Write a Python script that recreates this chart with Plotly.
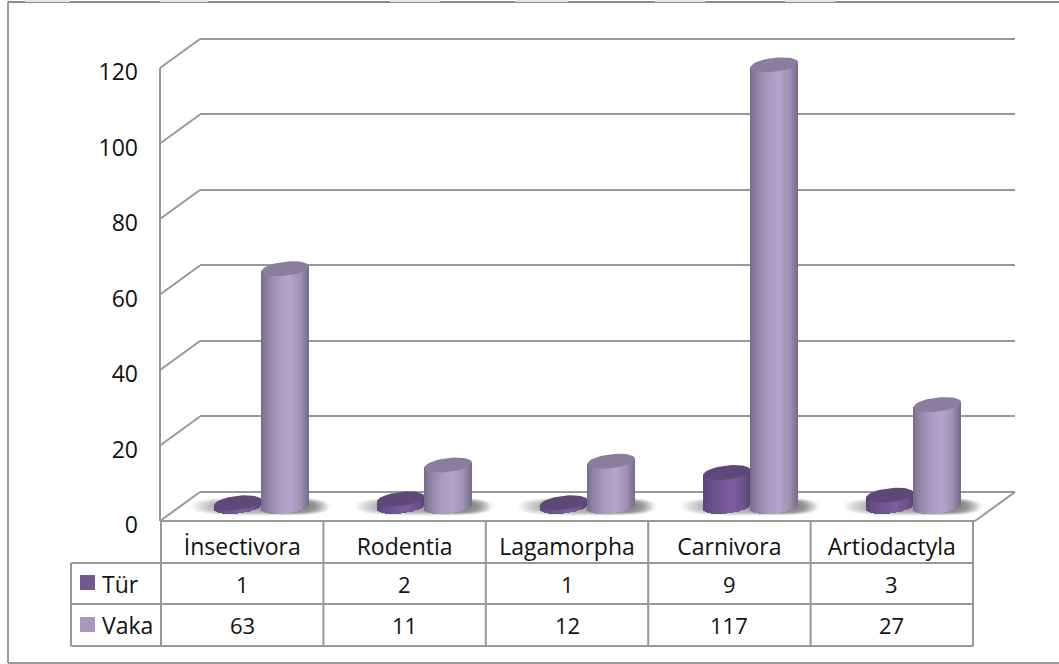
import math
import plotly.graph_objects as go

# Chart data
categories = ["İnsectivora", "Rodentia", "Lagamorpha", "Carnivora", "Artiodactyla"]
tur = [1, 2, 1, 9, 3]
vaka = [63, 11, 12, 117, 27]
series_names = ["Tür", "Vaka"]
y_ticks = [0, 20, 40, 60, 80, 100, 120]

W, H = 1059, 664
GRID = "#989898"
INK = "#111111"


def px(x):
    return x / W


def py(y):
    return 1 - y / H


# Scale of the plane the cylinders stand on
CAT_PX = 163.0
UNIT_PX = 3.775
PLANE_X0 = 180.0
PLANE_Y0 = 506.5
DEPTH_DX = 20.0 / CAT_PX
DEPTH_DY = 14.5 / UNIT_PX
BAR_W = 47.5 / CAT_PX
CAP_K = 7.0 / UNIT_PX
CAP_TILT = 2.5 / UNIT_PX


def hex_rgb(c):
    return tuple(int(c[i:i + 2], 16) for i in (1, 3, 5))


def ramp(stops, t):
    for (a, ca), (b, cb) in zip(stops, stops[1:]):
        if t <= b:
            f = (t - a) / (b - a)
            ra, rb = hex_rgb(ca), hex_rgb(cb)
            return "rgb(%d,%d,%d)" % tuple(round(p + (q - p) * f) for p, q in zip(ra, rb))
    return stops[-1][1]


TUR_SIDE = [(0, "#5a4478"), (0.12, "#654d85"), (0.62, "#7c5e9e"), (0.88, "#6b5189"), (1, "#574272")]
VAKA_SIDE = [(0, "#75698a"), (0.1, "#8b7fa0"), (0.35, "#a899bd"), (0.6, "#b5a5cc"),
             (0.82, "#9f92b3"), (1, "#736a88")]
TUR_CAP = "#5d4878"
VAKA_CAP = "#8a7d9e"

STRIPS = 24

fig = go.Figure()

# Empty traces keep the back wall and the front axis subplots alive
fig.add_trace(go.Scatter(x=[0], y=[0], xaxis="x", yaxis="y", mode="markers",
                         marker=dict(opacity=0), hoverinfo="skip"))
fig.add_trace(go.Scatter(x=[0], y=[0], xaxis="x2", yaxis="y2", mode="markers",
                         marker=dict(opacity=0), hoverinfo="skip"))

# Cylinder sides are narrow bar strips, shaded across the width
for values, sign, stops, name in ((tur, -1, TUR_SIDE, series_names[0]),
                                  (vaka, 1, VAKA_SIDE, series_names[1])):
    for i in range(STRIPS):
        t = (i + 0.5) / STRIPS
        u = 2 * t - 1
        bottom = CAP_TILT * u - CAP_K * math.sqrt(1 - u * u)
        fig.add_trace(go.Bar(
            x=[c + sign * BAR_W / 2 + u * BAR_W / 2 for c in range(len(categories))],
            y=[v + CAP_TILT * u - bottom for v in values],
            base=[bottom] * len(values),
            width=BAR_W / STRIPS * 1.3,
            marker=dict(color=ramp(stops, t), line=dict(width=0)),
            xaxis="x3", yaxis="y3", name=name, hoverinfo="skip",
        ))

# Elliptical top faces
angles = [2 * math.pi * a / 48 for a in range(49)]
for values, sign, colour in ((tur, -1, TUR_CAP), (vaka, 1, VAKA_CAP)):
    xs, ys = [], []
    for c, v in enumerate(values):
        for a in angles:
            xs.append(c + sign * BAR_W / 2 + BAR_W / 2 * math.cos(a))
            ys.append(v + CAP_TILT * math.cos(a) + CAP_K * math.sin(a))
        xs.append(None)
        ys.append(None)
    fig.add_trace(go.Scatter(x=xs, y=ys, mode="lines", fill="toself", fillcolor=colour,
                             line=dict(width=0), xaxis="x3", yaxis="y3", hoverinfo="skip"))

# Depth connectors from the front axis to the back wall
dx, dy = [], []
for t in y_ticks:
    dx += [-0.5 - DEPTH_DX, -0.5 + DEPTH_DX, None]
    dy += [t - DEPTH_DY, t + DEPTH_DY, None]
dx += [4.5 - DEPTH_DX, 4.5 + DEPTH_DX, None]
dy += [-DEPTH_DY, DEPTH_DY, None]
fig.add_trace(go.Scatter(x=dx, y=dy, mode="lines", line=dict(color=GRID, width=2),
                         xaxis="x3", yaxis="y3", hoverinfo="skip"))

shapes = []


def soft_blob(cx, half_x, half_y, alpha):
    """Rounded floor patch in plane coordinates, used as one layer of a blurred shadow."""
    pts = []
    for k in range(36):
        a = 2 * math.pi * k / 36
        c, s = math.cos(a), math.sin(a)
        pts.append((cx + half_x * math.copysign(abs(c) ** 0.7, c),
                    half_y * math.copysign(abs(s) ** 0.7, s)))
    path = "M " + " L ".join("%.4f,%.4f" % p for p in pts) + " Z"
    shapes.append(dict(type="path", path=path, xref="x3", yref="y3", layer="between",
                       fillcolor="rgba(0,0,0,%.3f)" % alpha, line=dict(width=0)))


# Soft floor shadows: a wide pool under each pair, darker on the lit cylinder's right
for c in range(len(categories)):
    for n in range(14):
        soft_blob(c, (70 - n * 1.7) / CAT_PX, (9.5 - n * 0.3) / UNIT_PX, 0.022)
    for n in range(8):
        soft_blob(c + 6 / CAT_PX + BAR_W / 2, (36 - n * 1.6) / CAT_PX, (8.5 - n * 0.3) / UNIT_PX, 0.03)


def rule(x0, y0, x1, y1, width=2, colour=GRID):
    shapes.append(dict(type="line", xref="paper", yref="paper",
                       x0=px(x0), y0=py(y0), x1=px(x1), y1=py(y1),
                       line=dict(color=colour, width=width)))


# Outer frame: open on the right
rule(8, 2, W, 2, 2, "#8a8a8a")
rule(8, 2, 8, 663, 2, "#9a9a9a")
rule(8, 663, W, 663, 2, "#9a9a9a")

# Front edge of the floor and the vertical axis line
rule(160, 521, 975, 521)
rule(160, 68, 160, 521)

# Data table grid
TABLE_L, TABLE_R = 161.0, 973.0
ROW_Y = [521, 563, 604, 646]
for y in ROW_Y[1:]:
    rule(71, y, TABLE_R, y)
rule(71, 563, 71, 646)
for i in range(len(categories) + 1):
    x = TABLE_L + i * (TABLE_R - TABLE_L) / len(categories)
    rule(x, 521, x, 646)

# Legend keys in the first table column
for top, colour in ((575, "#725a91"), (617, "#a898bd")):
    shapes.append(dict(type="rect", xref="paper", yref="paper",
                       x0=px(80), x1=px(95), y0=py(top), y1=py(top + 15),
                       fillcolor=colour, line=dict(width=0)))

# Pale smudges along the top edge
for a, b in ((25, 70), (160, 208), (390, 440), (515, 568), (655, 705), (785, 835)):
    shapes.append(dict(type="rect", xref="paper", yref="paper",
                       x0=px(a), x1=px(b), y0=py(0), y1=py(2),
                       fillcolor="#e6e6e6", line=dict(width=0)))

annotations = []
FONT = "Open Sans, sans-serif"
WORD_SIZE = 23
DIGIT_SIZE = 22
for row, (name, values, yc) in enumerate(((series_names[0], tur, 583.5), (series_names[1], vaka, 625))):
    annotations.append(dict(text=name, xref="paper", yref="paper", x=px(100), y=py(yc),
                            xanchor="left", yanchor="middle", showarrow=False,
                            font=dict(family=FONT, size=WORD_SIZE, color=INK)))
    for c, v in enumerate(values):
        annotations.append(dict(text=str(v), xref="x2", yref="paper", x=c, y=py(yc),
                                xanchor="center", yanchor="middle", showarrow=False,
                                font=dict(family=FONT, size=DIGIT_SIZE, color=INK)))

# The wall range runs one unit past the ticks so the end gridlines stay drawn
WALL_PAD = 1
fig.update_layout(
    template="none",
    width=W, height=H,
    margin=dict(l=0, r=0, t=0, b=0, pad=0),
    paper_bgcolor="white", plot_bgcolor="rgba(0,0,0,0)",
    showlegend=False, barmode="overlay", bargap=0,
    hovermode=False,
    shapes=shapes, annotations=annotations,
    font=dict(family=FONT, color=INK),
    # Back wall with its gridlines
    xaxis=dict(domain=[px(200), px(1015)], range=[-0.5, 4.5], visible=False, fixedrange=True,
               automargin=False),
    yaxis=dict(domain=[py(492 + WALL_PAD * UNIT_PX), py(39 - WALL_PAD * UNIT_PX)],
               range=[-WALL_PAD, 120 + WALL_PAD], tickvals=y_ticks, showgrid=True,
               gridcolor=GRID, gridwidth=2, zeroline=False, showticklabels=False, ticks="",
               anchor="x", fixedrange=True, showline=False, automargin=False),
    # Front axis carrying the labels, sitting a little low so the digits centre on the ticks
    xaxis2=dict(domain=[px(TABLE_L), px(TABLE_R)], range=[-0.5, 4.5], anchor="y2",
                tickvals=list(range(len(categories))), ticktext=categories, showgrid=False,
                zeroline=False, showline=False, ticks="",
                ticklabelstandoff=6, tickfont=dict(family=FONT, size=WORD_SIZE, color=INK),
                fixedrange=True, automargin=False),
    yaxis2=dict(domain=[py(525), py(72)], range=[0, 120], tickvals=y_ticks, anchor="x2",
                showgrid=False, zeroline=False, showline=False,
                ticks="", ticklabelstandoff=22, tickfont=dict(family=FONT, size=23, color=INK),
                fixedrange=True, automargin=False),
    # Plane the cylinders stand on, spanning the whole page
    xaxis3=dict(domain=[0, 1], anchor="y3", visible=False, fixedrange=True, automargin=False,
                range=[-0.5 - PLANE_X0 / CAT_PX, -0.5 + (W - PLANE_X0) / CAT_PX]),
    yaxis3=dict(domain=[0, 1], anchor="x3", visible=False, fixedrange=True, automargin=False,
                range=[(PLANE_Y0 - H) / UNIT_PX, PLANE_Y0 / UNIT_PX]),
)

fig.write_html("out.html", config=dict(displayModeBar=False))
